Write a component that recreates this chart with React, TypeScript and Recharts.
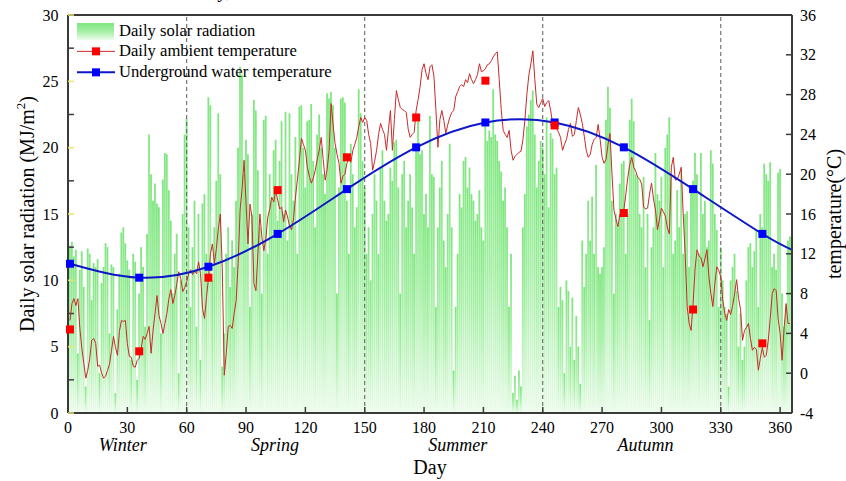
import React from 'react';
import { ComposedChart, Bar, Line, XAxis, YAxis, ReferenceLine, Legend } from 'recharts';

// ---- Data ----
// Daily solar radiation (MJ/m2), day 0 .. 365
const solarRadiation = [
  13.0, 12.6, 12.9, 11.8, 12.3, 4.5, 10.8, 12.2, 9.5, 2.0,
  12.4, 12.0, 8.5, 11.3, 11.0, 11.6, 3.0, 9.8, 11.0, 12.8,
  12.5, 6.0, 11.2, 11.0, 1.5, 7.8, 10.5, 13.6, 14.0, 12.8,
  11.5, 10.8, 4.0, 12.0, 11.4, 2.5, 9.0, 12.5, 11.0, 6.5,
  13.5, 21.0, 18.0, 16.0, 17.3, 15.8, 15.5, 6.0, 17.6, 19.6,
  19.5, 16.8, 14.5, 9.0, 12.0, 13.5, 3.0, 10.0, 15.0, 21.0,
  22.2, 14.0, 8.0, 12.5, 16.0, 6.5, 15.0, 4.0, 15.8, 16.5,
  12.0, 23.8, 23.2, 10.0, 14.0, 17.5, 22.6, 18.0, 3.5, 6.0,
  12.0, 14.0, 9.5, 13.0, 11.0, 16.0, 20.0, 26.1, 25.5, 18.0,
  20.6, 19.5, 8.0, 15.0, 23.6, 22.8, 18.3, 14.0, 9.0, 22.1,
  22.4, 12.0, 18.0, 16.0, 19.8, 20.6, 14.5, 19.0, 22.0, 15.0,
  22.7, 13.0, 22.6, 18.0, 16.0, 20.8, 12.0, 23.1, 23.2, 20.0,
  17.0, 22.0, 22.1, 23.3, 19.0, 14.0, 21.0, 22.5, 20.0, 18.0,
  16.5, 24.1, 23.7, 24.2, 23.2, 20.0, 9.0, 17.0, 23.7, 23.8,
  23.4, 16.0, 12.0, 20.3, 18.0, 14.0, 15.5, 24.4, 22.6, 19.0,
  17.0, 12.0, 14.0, 10.0, 15.0, 18.0, 16.0, 12.0, 18.5, 19.8,
  16.0, 14.5, 15.0, 18.5, 17.5, 20.4, 20.6, 17.0, 9.0, 18.0,
  19.0, 14.0, 16.0, 18.0, 15.5, 12.0, 20.0, 22.0, 19.5, 19.8,
  15.0, 16.5, 14.0, 22.4, 18.0, 17.8, 8.0, 14.0, 17.0, 19.0,
  13.0, 11.0, 15.0, 20.3, 14.0, 3.2, 8.0, 12.0, 16.5, 15.5,
  19.0, 19.3, 17.0, 18.5, 16.5, 16.0, 14.5, 15.0, 16.8, 14.0,
  13.0, 21.8, 20.5, 21.3, 20.8, 24.4, 21.0, 20.5, 19.0, 18.2,
  16.0, 17.0, 14.0, 8.0, 12.0, 1.5, 2.8, 1.0, 3.2, 2.0,
  14.0, 16.5, 21.6, 22.5, 23.6, 24.3, 21.0, 17.0, 19.0, 20.5,
  20.0, 18.0, 22.3, 15.5, 21.1, 20.7, 18.0, 18.5, 8.0, 9.5,
  8.5, 3.0, 10.0, 9.2, 5.0, 8.7, 4.0, 7.3, 5.0, 2.2,
  13.0, 9.5, 12.0, 16.0, 13.0, 16.3, 12.0, 18.7, 11.0, 10.5,
  11.0, 12.5, 22.1, 24.6, 23.0, 16.0, 9.0, 15.0, 14.0, 17.3,
  18.8, 19.0, 12.0, 15.0, 22.1, 23.7, 22.0, 18.0, 17.8, 15.0,
  14.0, 17.8, 11.0, 15.0, 7.0, 12.5, 14.0, 19.6, 16.5, 16.0,
  17.8, 11.0, 20.0, 21.0, 22.3, 17.8, 12.0, 13.0, 16.8, 14.0,
  18.3, 12.0, 15.0, 15.2, 11.0, 16.8, 17.5, 19.6, 18.0, 12.0,
  19.6, 15.0, 16.0, 12.5, 13.0, 19.8, 18.8, 15.0, 13.8, 8.0,
  12.5, 10.0, 8.0, 7.5, 2.0, 10.0, 11.0, 12.0, 9.2, 5.0,
  7.5, 4.0, 5.0, 10.0, 12.5, 12.8, 11.0, 12.2, 13.8, 8.0,
  15.0, 14.0, 18.8, 18.0, 17.5, 18.9, 11.0, 12.0, 10.8, 18.1,
  18.4, 9.0, 6.5, 8.0, 13.0, 13.3,
];

// Daily ambient temperature (°C), day 1 .. 365
const ambientStartDay = 1;
const ambientTemperature = [
  5.3, 7.0, 7.5, 6.8, 7.5, 4.5, 2.5, 1.0, -0.5, 0.3,
  1.5, 3.3, 3.5, 3.0, 0.7, 0.8, 0.0, -0.5, -0.3, 0.3,
  0.9, 2.3, 3.7, 2.6, 1.8, 4.2, 5.3, 5.2, 5.3, 3.0,
  1.7, 1.6, 0.7, 0.6, 1.3, 1.5, 2.5, 3.7, 3.4, 4.0,
  4.7, 2.0, 4.3, 6.0, 7.8, 5.8, 5.0, 4.0, 5.0, 6.0,
  7.5, 8.4, 7.0, 7.8, 9.0, 10.2, 9.5, 8.2, 8.6, 9.2,
  10.0, 10.4, 9.9, 10.3, 10.0, 11.2, 10.0, 6.5, 5.5, 7.6,
  9.5, 12.0, 13.0, 11.0, 12.5, 14.5, 16.0, 10.5, -0.2, 2.0,
  4.7, 4.8, 4.5, 6.0, 7.3, 11.0, 16.4, 18.5, 21.4, 17.1,
  13.0, 17.0, 15.7, 9.0, 8.3, 12.0, 16.0, 13.7, 12.3, 13.5,
  15.7, 16.5, 17.7, 17.2, 18.4, 17.4, 16.5, 16.7, 15.2, 16.4,
  15.7, 14.8, 14.4, 15.5, 17.7, 19.5, 21.4, 23.6, 23.0, 22.4,
  20.7, 19.8, 19.1, 19.6, 20.4, 21.5, 22.4, 23.7, 21.5, 19.4,
  20.5, 22.4, 27.1, 25.0, 23.1, 22.0, 21.1, 19.1, 19.8, 20.0,
  21.1, 21.6, 21.2, 22.4, 23.0, 23.7, 24.8, 25.7, 25.2, 25.7,
  25.4, 24.0, 23.1, 20.4, 21.3, 22.4, 24.0, 25.1, 24.5, 24.0,
  22.4, 24.5, 26.4, 22.4, 25.5, 28.4, 27.5, 26.7, 26.5, 26.4,
  26.2, 24.5, 23.7, 24.0, 24.2, 26.4, 27.5, 28.8, 30.5, 31.1,
  30.1, 29.5, 30.8, 31.0, 29.8, 26.4, 22.7, 25.5, 26.4, 25.4,
  24.1, 25.0, 25.7, 26.2, 26.4, 27.8, 28.3, 28.8, 29.0, 28.8,
  29.5, 29.2, 30.1, 29.5, 29.1, 29.5, 30.0, 31.1, 30.3, 30.4,
  30.6, 31.0, 31.1, 31.4, 31.8, 32.1, 32.3, 29.5, 26.5, 24.4,
  24.0, 23.7, 24.4, 22.4, 21.4, 21.8, 22.0, 22.2, 22.3, 23.5,
  25.5, 28.1, 30.0, 31.1, 32.4, 29.5, 27.0, 26.7, 27.2, 27.6,
  26.8, 27.2, 27.4, 26.4, 25.1, 25.4, 24.6, 24.2, 23.7, 22.4,
  23.0, 23.5, 24.5, 25.1, 23.8, 24.0, 25.4, 26.7, 26.0, 25.1,
  23.8, 22.4, 21.7, 22.0, 23.0, 23.5, 23.7, 25.0, 23.5, 21.7,
  21.1, 21.5, 23.0, 24.1, 20.0, 16.4, 15.5, 14.7, 16.0, 15.8,
  16.4, 18.0, 19.7, 21.0, 21.7, 20.7, 20.3, 19.7, 19.5, 19.0,
  16.7, 16.5, 16.6, 18.0, 19.1, 17.5, 16.4, 14.4, 15.5, 16.6,
  16.2, 15.8, 14.6, 14.0, 20.7, 21.7, 19.4, 19.5, 20.0, 20.7,
  16.0, 12.0, 6.7, 5.0, 4.3, 7.0, 10.5, 12.4, 11.8, 11.6,
  10.7, 11.5, 12.4, 9.7, 8.0, 6.7, 9.0, 10.7, 10.3, 9.7,
  7.4, 6.0, 5.3, 6.4, 5.9, 6.8, 8.0, 9.4, 7.5, 6.4,
  3.3, 4.3, 4.6, 5.0, 3.5, 2.3, 2.6, 2.4, 0.3, 1.5,
  2.6, 1.6, 1.8, 3.3, 5.5, 8.0, 8.5, 8.3, 5.5, 4.0,
  1.3, 4.5, 7.0, 5.0, 5.0,
];

// Marked days (every 35 days)
const markerDays = [1, 36, 71, 106, 141, 176, 211, 246, 281, 316, 351];
const ambientMarkers = [4.4, 2.2, 9.6, 18.4, 21.7, 25.7, 29.4, 24.9, 16.1, 6.4, 3.0];
const waterTemperature = [11.0, 9.6, 10.7, 14.0, 18.5, 22.7, 25.2, 25.2, 22.7, 18.5, 14.0];
const waterEndDay = 366;
const waterEndValue = 12.4;

const dayTicks = [0, 30, 60, 90, 120, 150, 180, 210, 240, 270, 300, 330, 360];
const solarTicks = [0, 5, 10, 15, 20, 25, 30];
const solarMinorTicks = [2.5, 7.5, 12.5, 17.5, 22.5, 27.5];
const tempTicks = [-4, 0, 4, 8, 12, 16, 20, 24, 28, 32, 36];
const seasonBounds = [60, 150, 240, 330];
const seasonNames = ['Winter', 'Spring', 'Summer', 'Autumn'];
const seasonLabelDays = [27.7, 104.7, 197, 292];
const legendNames = ['Daily solar radiation', 'Daily ambient temperature', 'Underground water temperature'];

// ---- Table for the chart ----
const rows: any[] = [];
for (let d = 0; d <= waterEndDay; d++) {
  const mi = markerDays.indexOf(d);
  const ai = d - ambientStartDay;
  rows.push({
    day: d,
    solar: d < solarRadiation.length ? solarRadiation[d] : null,
    ambient: ai >= 0 && ai < ambientTemperature.length ? ambientTemperature[ai] : null,
    ambientMean: mi >= 0 ? ambientMarkers[mi] : null,
    water: mi >= 0 ? waterTemperature[mi] : d === waterEndDay ? waterEndValue : null,
    mark: mi >= 0,
  });
}

const FONT = '"Liberation Serif", "Times New Roman", serif';
const BAR_TOP = '#7ee67e';
const BAR_MID = '#a6efa6';
const BAR_BOTTOM = '#ecfbec';
const AMBIENT_LINE = '#c92a2a';
const AMBIENT_MARK = '#ff0000';
const WATER_LINE = '#0c18c8';
const WATER_MARK = '#0000ff';
const FRAME = '#3a3a3a';

function squareDot(color: string) {
  return (props: any) => {
    const { cx, cy, payload, index } = props;
    const ok = typeof cx === 'number' && typeof cy === 'number' && isFinite(cy) && payload && payload.mark;
    if (!ok) return <g key={`dot-${color}-${index}`} />;
    return <rect key={`dot-${color}-${index}`} x={cx - 4} y={cy - 4} width={8} height={8} fill={color} />;
  };
}

const leftTitle = (props: any) => {
  const vb = props.viewBox || {};
  const cx = vb.x + 27;
  const cy = vb.y + vb.height / 2;
  return (
    <text x={cx} y={cy} transform={`rotate(-90, ${cx}, ${cy})`} textAnchor="middle" dominantBaseline="central"
      fontFamily={FONT} fontSize={20} fill="#000">
      Daily solar radiation (MJ/m<tspan dy={-7} fontSize={13}>2</tspan><tspan dy={7}>)</tspan>
    </text>
  );
};

const rightTitle = (props: any) => {
  const vb = props.viewBox || {};
  const cx = vb.x + 42;
  const cy = vb.y + vb.height / 2;
  return (
    <text x={cx} y={cy} transform={`rotate(-90, ${cx}, ${cy})`} textAnchor="middle" dominantBaseline="central"
      fontFamily={FONT} fontSize={20} fill="#000">
      temperature(°C)
    </text>
  );
};

const dayTitle = (props: any) => {
  const vb = props.viewBox || {};
  return (
    <text x={vb.x + vb.width / 2} y={vb.y + vb.height + 17} textAnchor="middle" fontFamily={FONT} fontSize={20} fill="#000">
      Day
    </text>
  );
};

const LegendBox = () => {
  const icon = (i: number) => {
    if (i === 0) {
      return (
        <svg width={38} height={20.7} style={{ display: 'block' }}>
          <defs>
            <linearGradient id="legendSolar" x1="0" y1="0" x2="0" y2="1">
              <stop offset="0%" stopColor={BAR_TOP} />
              <stop offset="50%" stopColor={BAR_MID} />
              <stop offset="100%" stopColor={BAR_BOTTOM} />
            </linearGradient>
          </defs>
          <rect x={0} y={2} width={37} height={17} fill="url(#legendSolar)" />
        </svg>
      );
    }
    const lc = i === 1 ? AMBIENT_LINE : WATER_LINE;
    const mc = i === 1 ? AMBIENT_MARK : WATER_MARK;
    return (
      <svg width={38} height={20.7} style={{ display: 'block' }}>
        <line x1={0} x2={38} y1={10.35} y2={10.35} stroke={lc} strokeWidth={i === 1 ? 1 : 2} />
        <rect x={15} y={6.35} width={8} height={8} fill={mc} />
      </svg>
    );
  };
  return (
    <div style={{ fontFamily: FONT, fontSize: 16.6, color: '#000' }}>
      {legendNames.map((name, i) => (
        <div key={name} style={{ display: 'flex', alignItems: 'center', height: 20.7 }}>
          {icon(i)}
          <span style={{ marginLeft: 4, whiteSpace: 'nowrap', lineHeight: '20.7px' }}>{name}</span>
        </div>
      ))}
    </div>
  );
};

export default function App() {
  return (
    <div style={{ position: 'relative', width: 846, height: 481, overflow: 'hidden', background: '#fff' }}>
      <style>{'html,body{margin:0;padding:0;overflow:hidden;background:#fff}'}</style>
      <div style={{ position: 'absolute', left: 31, top: -20.5, width: 200, textAlign: 'right', fontFamily: FONT, fontSize: 20, lineHeight: '20px', whiteSpace: 'nowrap' }}>
        Daily,
      </div>
      <ComposedChart width={846} height={481} data={rows} margin={{ top: 14, right: 0, bottom: 24, left: 0 }}>
        <defs>
          <linearGradient id="solarGrad" x1="0" y1="0" x2="0" y2="1">
            <stop offset="0%" stopColor={BAR_TOP} />
            <stop offset="50%" stopColor={BAR_MID} />
            <stop offset="100%" stopColor={BAR_BOTTOM} />
          </linearGradient>
        </defs>
        <XAxis dataKey="day" type="number" domain={[0, 366]} ticks={dayTicks} interval={0} height={24}
          tickSize={-6} tickMargin={15}
          tick={{ fill: '#000', fontSize: 16, fontFamily: FONT }}
          tickLine={{ stroke: FRAME, strokeWidth: 1.5 }}
          axisLine={{ stroke: FRAME, strokeWidth: 2 }} />
        <XAxis xAxisId="season" dataKey="day" type="number" domain={[0, 366]} ticks={seasonLabelDays} interval={0} height={20}
          tickSize={0} tickMargin={1} tickLine={false} axisLine={false}
          tickFormatter={(v: number) => seasonNames[seasonLabelDays.indexOf(v)] || ''}
          tick={{ fill: '#000', fontSize: 18, fontFamily: FONT, fontStyle: 'italic' }}
          label={dayTitle} />
        <XAxis xAxisId="top" orientation="top" dataKey="day" type="number" domain={[0, 366]} ticks={dayTicks} interval={0} height={1}
          tickSize={-6} tick={false} tickLine={{ stroke: FRAME, strokeWidth: 1.5 }}
          axisLine={{ stroke: FRAME, strokeWidth: 2 }} />
        <YAxis yAxisId="left" domain={[0, 30]} ticks={solarTicks} interval={0} width={68}
          tickSize={-6} tickMargin={15.5}
          tick={{ fill: '#000', fontSize: 16, fontFamily: FONT }}
          tickLine={{ stroke: '#e6e672', strokeWidth: 1.5 }}
          axisLine={{ stroke: FRAME, strokeWidth: 2 }}
          label={leftTitle} />
        <YAxis yAxisId="right" orientation="right" domain={[-4, 36]} ticks={tempTicks} interval={0} width={54}
          tickSize={-6} tickMargin={14}
          tick={{ fill: '#000', fontSize: 16, fontFamily: FONT, textAnchor: 'start' }}
          tickLine={{ stroke: FRAME, strokeWidth: 1.5 }}
          axisLine={{ stroke: FRAME, strokeWidth: 2 }}
          label={rightTitle} />

        <Bar yAxisId="left" dataKey="solar" barSize={1.8} fill="url(#solarGrad)" isAnimationActive={false} legendType="none" />

        {seasonBounds.map((d) => (
          <ReferenceLine key={`sb-${d}`} yAxisId="left" x={d} stroke="#5a5a5a" strokeDasharray="4 3" strokeWidth={1} />
        ))}
        {solarMinorTicks.map((v) => (
          <ReferenceLine key={`mt-${v}`} yAxisId="left" segment={[{ x: 0, y: v }, { x: 3, y: v }]} stroke={FRAME} strokeWidth={1.5} />
        ))}

        <Line yAxisId="right" dataKey="ambient" type="linear" stroke={AMBIENT_LINE} strokeWidth={1} dot={false}
          activeDot={false} connectNulls isAnimationActive={false} legendType="none" />
        <Line yAxisId="right" dataKey="water" type="natural" stroke={WATER_LINE} strokeWidth={2}
          dot={squareDot(WATER_MARK)} activeDot={false} connectNulls isAnimationActive={false} legendType="none" />
        <Line yAxisId="right" dataKey="ambientMean" type="linear" stroke="none" strokeWidth={0}
          dot={squareDot(AMBIENT_MARK)} activeDot={false} isAnimationActive={false} legendType="none" />

        <Legend layout="vertical" align="center" verticalAlign="middle" content={<LegendBox />}
          wrapperStyle={{ left: 77, top: 20.5, width: 320, height: 63 }} />
      </ComposedChart>
    </div>
  );
}
